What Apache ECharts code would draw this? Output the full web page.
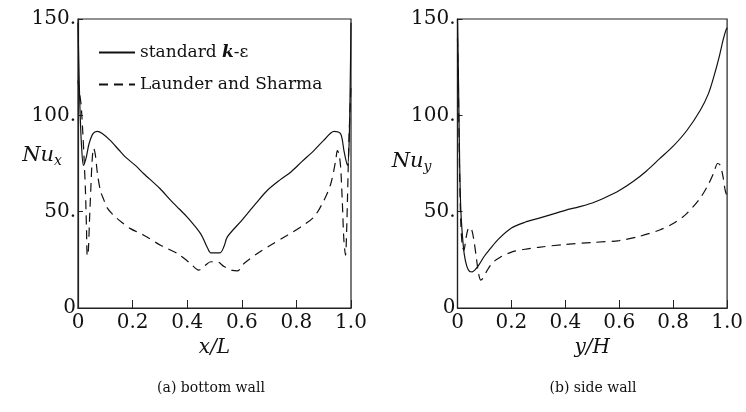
<!DOCTYPE html>
<html>
<head>
<meta charset="utf-8">
<script src="https://cdn.jsdelivr.net/npm/echarts@6/dist/echarts.min.js"></script>
<style>
  html, body { margin: 0; padding: 0; background: #fff; }
  #nusselt { width: 746px; height: 412px; }
</style>
</head>
<body>
<div id="nusselt"></div>
<script>
  // (a) bottom wall, standard k-epsilon
  const bottomStdX  = [0, 0.004, 0.008, 0.013, 0.02, 0.03, 0.04, 0.055, 0.07, 0.09, 0.118, 0.15, 0.174, 0.21, 0.241, 0.3, 0.339, 0.37, 0.4, 0.449, 0.475, 0.487, 0.52, 0.535, 0.547, 0.6, 0.65, 0.693, 0.74, 0.779, 0.82, 0.864, 0.9, 0.938, 0.962, 0.975, 0.987, 0.993, 0.997, 1.0];
  const bottomStdNu = [148, 120, 100, 84, 74, 78, 85, 90.5, 91.7, 90.5, 87, 82, 78.3, 74, 69.7, 62, 56, 51.5, 47.2, 38.6, 31, 28.6, 28.6, 32, 36.9, 45.5, 54, 61, 66.5, 70.5, 76, 81.7, 87, 91.7, 90.4, 81, 74, 85, 115, 148];
  // (a) bottom wall, Launder and Sharma
  const bottomLsX  = [0, 0.005, 0.011, 0.018, 0.023, 0.027, 0.031, 0.034, 0.038, 0.042, 0.047, 0.052, 0.057, 0.063, 0.071, 0.082, 0.095, 0.107, 0.131, 0.16, 0.192, 0.241, 0.302, 0.363, 0.412, 0.442, 0.465, 0.486, 0.51, 0.535, 0.565, 0.585, 0.608, 0.657, 0.705, 0.767, 0.816, 0.864, 0.901, 0.926, 0.944, 0.95, 0.956, 0.962, 0.968, 0.974, 0.98, 0.984, 0.987, 0.993, 1.0];
  const bottomLsNu = [118, 112, 106, 90, 75, 62, 42, 27, 30, 45, 62, 77, 83, 80, 70, 61, 56, 52, 48, 44.5, 41.2, 37.8, 32.6, 28.3, 23.1, 19.7, 22, 24, 24, 21.5, 19.5, 19.3, 23.1, 28.3, 32.6, 37.8, 42.1, 47.2, 55.9, 64.5, 76.6, 81.7, 80, 73.1, 55.9, 35, 27.4, 40, 56, 90, 115];

  // (b) side wall, standard k-epsilon
  const sideStdX  = [0, 0.004, 0.008, 0.012, 0.018, 0.025, 0.035, 0.045, 0.055, 0.065, 0.08, 0.1, 0.12, 0.15, 0.2, 0.25, 0.3, 0.35, 0.4, 0.45, 0.5, 0.55, 0.6, 0.65, 0.7, 0.75, 0.8, 0.85, 0.9, 0.93, 0.95, 0.97, 0.985, 0.995, 1.0];
  const sideStdNu = [150, 115, 75, 52, 38, 28, 21.5, 19, 18.8, 19.8, 22.5, 27, 30.5, 35.5, 41.5, 44.5, 46.5, 48.6, 50.7, 52.5, 54.5, 57.5, 61, 65.5, 71, 77.5, 84, 92, 102.5, 111, 119.7, 130, 139, 144, 145.5];
  // (b) side wall, Launder and Sharma
  const sideLsX  = [0, 0.004, 0.008, 0.012, 0.018, 0.024, 0.03, 0.038, 0.046, 0.054, 0.062, 0.07, 0.078, 0.086, 0.095, 0.11, 0.13, 0.16, 0.2, 0.25, 0.3, 0.4, 0.5, 0.6, 0.67, 0.75, 0.8, 0.85, 0.9, 0.93, 0.95, 0.965, 0.975, 0.985, 0.993, 1.0];
  const sideLsNu = [140, 105, 68, 45, 32, 30, 35, 40.5, 42, 40, 34, 26, 18, 14.5, 15.5, 19.5, 23.5, 26.5, 29, 30.5, 31.5, 33, 34, 35, 37, 40.5, 43.8, 49, 57, 64, 70, 75, 74, 68, 61, 58];

  const xTickLabels = ['0', '0.2', '0.4', '0.6', '0.8', '1.0'];
  const yTickValues = [0, 50, 100, 150];
  const yTickLabels = ['0', '50.', '100.', '150.'];
  const captions = ['(a) bottom wall', '(b) side wall'];

  const serif = 'DejaVu Serif';
  const ink = '#111';

  function pairs(xs, ys) {
    return xs.map((x, i) => [x, ys[i]]);
  }

  function xAxisFor(idx, name) {
    return {
      type: 'value', gridIndex: idx, min: 0, max: 1, interval: 0.2,
      name: name, nameLocation: 'middle', nameGap: 28,
      nameTextStyle: { fontFamily: serif, fontStyle: 'italic', fontSize: 20, color: ink },
      axisLine: { lineStyle: { color: '#222', width: 1.2 } },
      axisTick: { inside: true, length: 8, lineStyle: { color: '#222' } },
      axisLabel: {
        margin: 5, fontFamily: serif, fontSize: 20, color: ink,
        formatter: v => xTickLabels[Math.round(v / 0.2)]
      },
      splitLine: { show: false }
    };
  }

  function yAxisFor(idx, name, gap, lift) {
    return {
      type: 'value', gridIndex: idx, min: 0, max: 150, interval: 50,
      name: name, nameLocation: 'middle', nameRotate: 0, nameGap: gap,
      nameMoveOverlap: false,
      nameTextStyle: {
        color: ink, padding: [0, 0, lift, 0],
        rich: {
          n: { fontFamily: serif, fontStyle: 'italic', fontSize: 21, color: ink },
          s: { fontFamily: serif, fontStyle: 'italic', fontSize: 14, color: ink, padding: [12, 0, 0, 0] }
        }
      },
      axisLine: { lineStyle: { color: '#222', width: 1.2 } },
      axisTick: { inside: true, length: 5, lineStyle: { color: '#222' } },
      axisLabel: {
        margin: 2, fontFamily: serif, fontSize: 20, color: ink,
        formatter: v => yTickLabels[yTickValues.indexOf(v)]
      },
      splitLine: { show: false }
    };
  }

  function curve(name, idx, xs, ys, dashed) {
    return {
      name: name, type: 'line', xAxisIndex: idx, yAxisIndex: idx,
      data: pairs(xs, ys),
      symbol: 'none', smooth: 0.3,
      lineStyle: { color: ink, width: 1.2, type: dashed ? [9, 6] : 'solid' },
      itemStyle: { color: ink }
    };
  }

  const myChart = echarts.init(document.getElementById('nusselt'));
  myChart.setOption({
    animation: false,
    backgroundColor: '#fff',
    title: [
      { text: captions[0], left: 206, top: 376, textAlign: 'center',
        textStyle: { fontFamily: serif, fontSize: 14, fontWeight: 'normal', color: ink } },
      { text: captions[1], left: 588, top: 376, textAlign: 'center',
        textStyle: { fontFamily: serif, fontSize: 14, fontWeight: 'normal', color: ink } }
    ],
    legend: {
      orient: 'vertical', left: 98, top: 44, padding: 0,
      itemWidth: 36, itemHeight: 14, itemGap: 15,
      itemStyle: { color: 'rgba(0,0,0,0)', borderColor: 'rgba(0,0,0,0)', borderWidth: 0 },
      data: ['standard k-ε', 'Launder and Sharma'],
      formatter: n => n === 'standard k-ε' ? '{n|standard }{i|k}{n|-ε}' : '{n|' + n + '}',
      textStyle: {
        color: ink,
        rich: {
          n: { fontFamily: serif, fontSize: 17, color: ink },
          i: { fontFamily: serif, fontSize: 17, fontStyle: 'italic', fontWeight: 'bold', color: ink }
        }
      }
    },
    grid: [
      { left: 78, top: 19, width: 273, height: 289, show: true, borderColor: '#222', borderWidth: 1.2 },
      { left: 457.5, top: 19, width: 273, height: 289, show: true, borderColor: '#222', borderWidth: 1.2 }
    ],
    xAxis: [xAxisFor(0, 'x/L'), xAxisFor(1, 'y/H')],
    yAxis: [yAxisFor(0, '{n|Nu}{s|x}', 16, 16), yAxisFor(1, '{n|Nu}{s|y}', 26, 4)],
    series: [
      curve('standard k-ε', 0, bottomStdX, bottomStdNu, false),
      curve('Launder and Sharma', 0, bottomLsX, bottomLsNu, true),
      curve('standard k-ε', 1, sideStdX, sideStdNu, false),
      curve('Launder and Sharma', 1, sideLsX, sideLsNu, true)
    ]
  });

  window.addEventListener('resize', () => {
    myChart.resize();
  });
</script>
</body>
</html>
